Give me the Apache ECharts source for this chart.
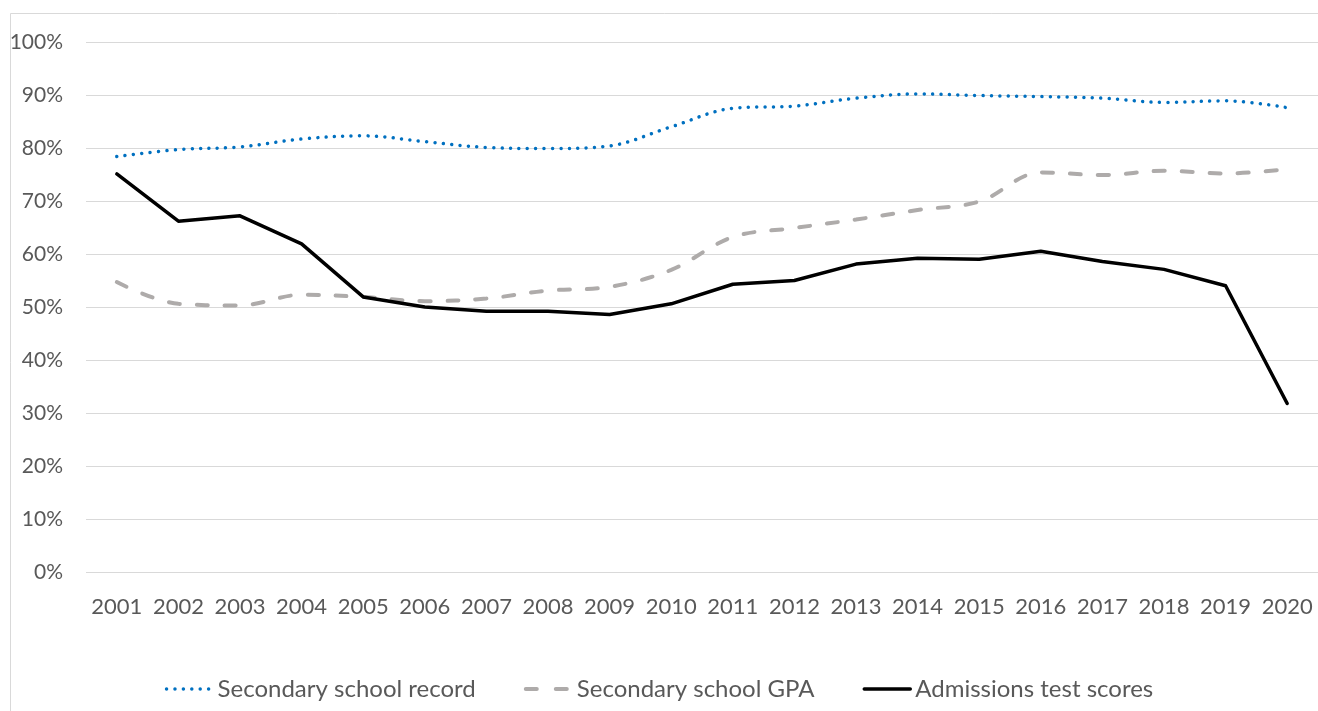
<!DOCTYPE html>
<html>
<head>
<meta charset="utf-8">
<style>
  html, body { margin: 0; padding: 0; background: #fff; }
  #chart { width: 1318px; height: 711px; }
</style>
<script src="https://cdn.jsdelivr.net/npm/echarts@6/dist/echarts.min.js"></script>
</head>
<body>
<div id="chart"></div>
<script>
// years on the x axis
const years = ['2001', '2002', '2003', '2004', '2005', '2006', '2007', '2008', '2009', '2010',
  '2011', '2012', '2013', '2014', '2015', '2016', '2017', '2018', '2019', '2020']

// shares in percent
const schoolRecord = [78.4, 79.7, 80.2, 81.7, 82.3, 81.2, 80.1, 79.9, 80.4, 84.0,
  87.5, 87.9, 89.4, 90.2, 89.9, 89.7, 89.4, 88.6, 88.9, 87.6]
const schoolGpa = [54.7, 50.6, 50.3, 52.3, 51.9, 51.1, 51.6, 53.1, 53.8, 57.0,
  63.2, 64.9, 66.5, 68.3, 69.9, 75.4, 74.9, 75.7, 75.2, 76.0]
const testScores = [75.1, 66.2, 67.2, 61.9, 51.9, 50.0, 49.2, 49.2, 48.6, 50.6,
  54.3, 55.0, 58.1, 59.2, 59.0, 60.5, 58.6, 57.1, 54.0, 31.8]

const seriesNames = ['Secondary school record', 'Secondary school GPA', 'Admissions test scores']

const textColor = '#595959'
const font = 'Lato, "Open Sans", sans-serif'

const recordLine = { color: '#0070c0', width: 3.5, type: [0.01, 8.4], cap: 'round' }
const gpaLine = { color: '#aeabaa', width: 4, type: [11, 17], cap: 'round' }
const testLine = { color: '#000', width: 3.5, cap: 'round', join: 'round' }

const chart = echarts.init(document.getElementById('chart'))
chart.setOption({
  animation: false,
  backgroundColor: '#fff',
  graphic: [{
    type: 'rect',
    silent: true,
    shape: { x: 10.5, y: 13.5, width: 1400, height: 800 },
    style: { fill: 'none', stroke: '#d9d9d9', lineWidth: 1 }
  }],
  grid: {
    left: 86,
    right: 0,
    top: 42,
    bottom: 139
  },
  legend: {
    data: [
      { name: seriesNames[0], lineStyle: recordLine },
      { name: seriesNames[1], lineStyle: { color: '#aeabaa', width: 4, type: [11, 19], cap: 'round' } },
      { name: seriesNames[2], lineStyle: testLine }
    ],
    left: 'center',
    top: 672,
    itemWidth: 46,
    itemHeight: 14,
    itemGap: 48,
    itemStyle: { opacity: 0 },
    textStyle: {
      color: textColor,
      fontFamily: font,
      fontSize: 24
    }
  },
  xAxis: {
    type: 'category',
    data: years,
    boundaryGap: true,
    axisLine: { show: false },
    axisTick: { show: false },
    axisLabel: {
      interval: 0,
      color: textColor,
      fontFamily: font,
      fontSize: 22,
      margin: 24
    }
  },
  yAxis: {
    type: 'value',
    min: 0,
    max: 100,
    interval: 10,
    axisLine: { show: false },
    axisTick: { show: false },
    axisLabel: {
      color: textColor,
      fontFamily: font,
      fontSize: 21,
      margin: 23,
      formatter: '{value}%'
    },
    splitLine: {
      lineStyle: { color: '#d9d9d9', width: 1 }
    }
  },
  series: [{
    name: seriesNames[0],
    type: 'line',
    data: schoolRecord,
    smooth: 0.35,
    showSymbol: false,
    symbol: 'none',
    itemStyle: { color: '#0070c0' },
    lineStyle: recordLine
  }, {
    name: seriesNames[1],
    type: 'line',
    data: schoolGpa,
    smooth: 0.35,
    showSymbol: false,
    symbol: 'none',
    itemStyle: { color: '#aeabaa' },
    lineStyle: gpaLine
  }, {
    name: seriesNames[2],
    type: 'line',
    data: testScores,
    showSymbol: false,
    symbol: 'none',
    itemStyle: { color: '#000' },
    lineStyle: testLine
  }]
})
</script>
</body>
</html>
